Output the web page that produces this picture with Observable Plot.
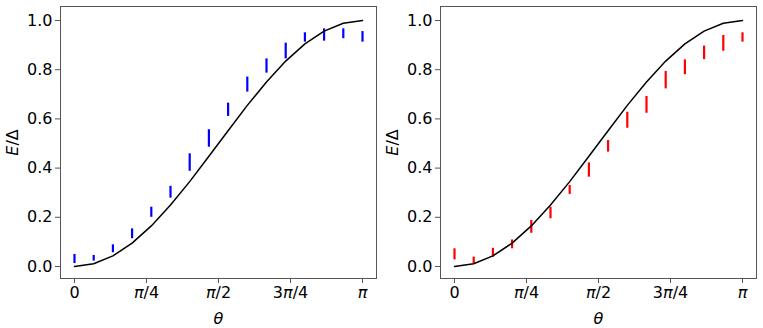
<!DOCTYPE html>
<html>
<head>
<meta charset="utf-8">
<script src="https://cdn.jsdelivr.net/npm/d3@7"></script>
<script src="https://cdn.jsdelivr.net/npm/@observablehq/plot@0.6"></script>
<style>
  html, body { margin: 0; padding: 0; background: #fff; }
  #wrap { position: relative; width: 763px; height: 328px; }
  #wrap > div { position: absolute; top: 0; }
  #left { left: 0; }
  #right { left: 380px; }
  svg { font-family: "DejaVu Sans", sans-serif; }
</style>
</head>
<body>
<div id="wrap"><div id="left"></div><div id="right"></div></div>
<script>
// θ values (k·π/15)
const theta = [0, 0.2094, 0.4189, 0.6283, 0.8378, 1.0472, 1.2566, 1.4661,
               1.6755, 1.8850, 2.0944, 2.3038, 2.5133, 2.7227, 2.9322, 3.1416];
// theory curve E/Δ
const theory = [0, 0.011, 0.043, 0.095, 0.165, 0.25, 0.345, 0.448,
                0.552, 0.655, 0.75, 0.835, 0.905, 0.957, 0.989, 1.0];
// blue (left) measured spread
const blueLow  = [0.012, 0.022, 0.056, 0.113, 0.200, 0.278, 0.387, 0.485,
                  0.610, 0.709, 0.786, 0.844, 0.912, 0.916, 0.926, 0.912];
const blueHigh = [0.049, 0.045, 0.088, 0.153, 0.241, 0.326, 0.458, 0.556,
                  0.664, 0.770, 0.844, 0.908, 0.950, 0.966, 0.966, 0.955];
// red (right) measured spread
const redLow  = [0.027, 0.011, 0.038, 0.072, 0.135, 0.194, 0.293, 0.363,
                 0.465, 0.562, 0.623, 0.722, 0.780, 0.841, 0.875, 0.912];
const redHigh = [0.072, 0.038, 0.074, 0.108, 0.187, 0.241, 0.329, 0.421,
                 0.512, 0.627, 0.691, 0.793, 0.840, 0.896, 0.939, 0.950];
// ticks
const xTicks = [0, Math.PI / 4, Math.PI / 2, 3 * Math.PI / 4, Math.PI];
const xTickLabels = ["0", "π/4", "π/2", "3π/4", "π"];
const yTicks = [0, 0.2, 0.4, 0.6, 0.8, 1.0];

function panel(low, high, color) {
  const pts = theta.map((t, i) => ({t, lo: low[i], hi: high[i], th: theory[i]}));
  const svg = Plot.plot({
    width: 381, height: 328,
    marginLeft: 60, marginRight: 5, marginTop: 6, marginBottom: 50,
    style: {fontFamily: "DejaVu Sans, sans-serif", fontSize: "16px", color: "#000", background: "#fff"},
    x: {domain: [-0.1527, Math.PI + 0.1527]},
    y: {domain: [-0.0488, 1.0569]},
    marks: [
      Plot.axisX(xTicks, {fontSize: 16, tickSize: 5, tickPadding: 3, stroke: "#555",
        tickFormat: (d) => xTickLabels[xTicks.findIndex(v => Math.abs(v - d) < 1e-9)],
        label: "θ", labelAnchor: "center", labelArrow: "none", labelOffset: 45}),
      Plot.axisY(yTicks, {fontSize: 16, tickSize: 5, tickPadding: 3, stroke: "#555",
        tickFormat: d3.format(".1f"),
        label: "E/Δ", labelAnchor: "center", labelArrow: "none", labelOffset: 54}),
      Plot.ruleX(pts, {x: "t", y1: "lo", y2: "hi", stroke: color, strokeWidth: 2.2}),
      Plot.line(pts, {x: "t", y: "th", stroke: "black", strokeWidth: 1.5}),
      Plot.frame({stroke: "#555", strokeWidth: 1})
    ]
  });
  // mathtext-like styling
  d3.select(svg).selectAll('g[aria-label="x-axis tick label"] text').each(function() {
    const s = this.textContent;
    this.innerHTML = s.replace("π", '<tspan font-style="italic">π</tspan>');
  });
  d3.select(svg).selectAll('g[aria-label="x-axis label"] text').attr("font-style", "italic");
  d3.select(svg).selectAll('g[aria-label="y-axis label"] text').each(function() {
    this.innerHTML = '<tspan font-style="italic">E</tspan>/Δ';
  });
  return svg;
}

document.getElementById("left").appendChild(panel(blueLow, blueHigh, "#0000ff"));
document.getElementById("right").appendChild(panel(redLow, redHigh, "#ff0000"));
</script>
</body>
</html>
